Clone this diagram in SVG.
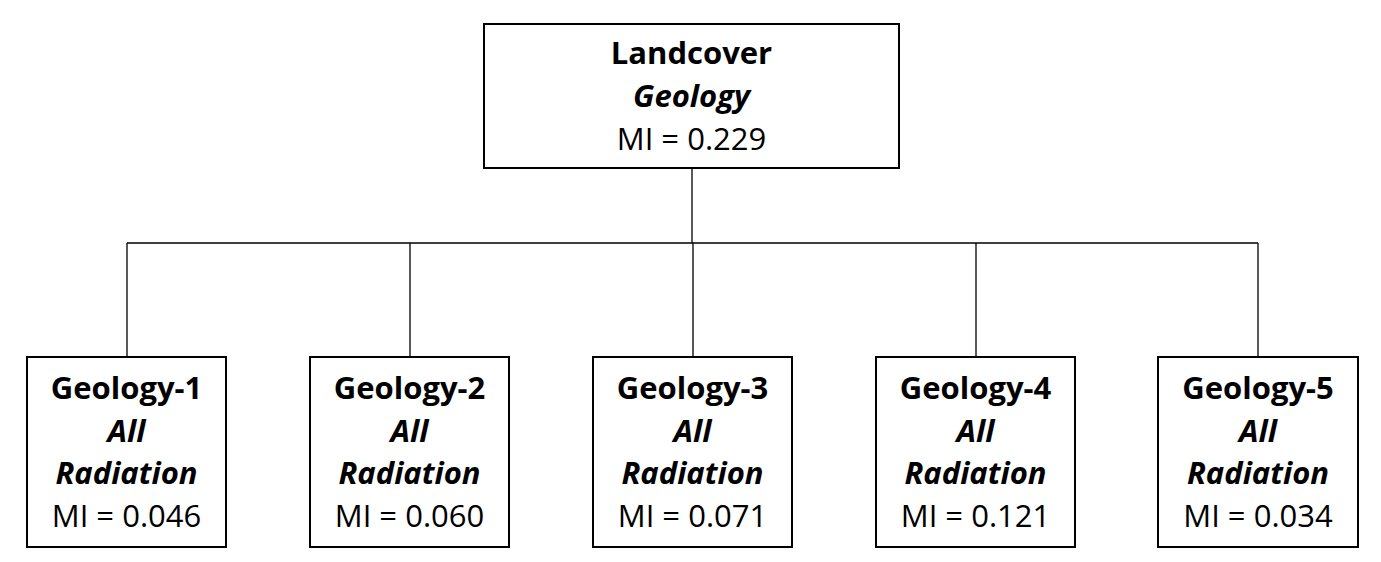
<svg xmlns="http://www.w3.org/2000/svg" width="1381" height="562" viewBox="0 0 1381 562">
<style>
.box{fill:#fff;stroke:#000;stroke-width:2}
.t{font-family:"Open Sans","Liberation Sans",sans-serif;font-size:31px;text-anchor:middle;fill:#000}
.b{font-weight:bold}
.bi{font-weight:bold;font-style:italic}
.c{fill:none;stroke:#000;stroke-width:1.3}
</style>
<rect width="1381" height="562" fill="#fff"/>
<g id="connectors">
<path class="c" d="M692 168V243M127 243H1258M127 243V357M410 243V357M693 243V357M976 243V357M1258 243V357"/>
</g>
<g id="root">
<rect class="box" x="484" y="24" width="415" height="144"/>
<text class="t b" x="691.5" y="64">Landcover</text>
<text class="t bi" x="691.5" y="107">Geology</text>
<text class="t" x="691.5" y="150">MI = 0.229</text>
</g>
<g id="g1">
<rect class="box" x="27" y="357" width="199" height="190"/>
<text class="t b" x="126.5" y="399">Geology-1</text>
<text class="t bi" x="126.5" y="442">All</text>
<text class="t bi" x="126.5" y="484">Radiation</text>
<text class="t" x="126.5" y="527">MI = 0.046</text>
</g>
<g id="g2">
<rect class="box" x="310" y="357" width="199" height="190"/>
<text class="t b" x="409.5" y="399">Geology-2</text>
<text class="t bi" x="409.5" y="442">All</text>
<text class="t bi" x="409.5" y="484">Radiation</text>
<text class="t" x="409.5" y="527">MI = 0.060</text>
</g>
<g id="g3">
<rect class="box" x="593" y="357" width="199" height="190"/>
<text class="t b" x="692.5" y="399">Geology-3</text>
<text class="t bi" x="692.5" y="442">All</text>
<text class="t bi" x="692.5" y="484">Radiation</text>
<text class="t" x="692.5" y="527">MI = 0.071</text>
</g>
<g id="g4">
<rect class="box" x="876" y="357" width="199" height="190"/>
<text class="t b" x="975.5" y="399">Geology-4</text>
<text class="t bi" x="975.5" y="442">All</text>
<text class="t bi" x="975.5" y="484">Radiation</text>
<text class="t" x="975.5" y="527">MI = 0.121</text>
</g>
<g id="g5">
<rect class="box" x="1158" y="357" width="200" height="190"/>
<text class="t b" x="1258" y="399">Geology-5</text>
<text class="t bi" x="1258" y="442">All</text>
<text class="t bi" x="1258" y="484">Radiation</text>
<text class="t" x="1258" y="527">MI = 0.034</text>
</g>
</svg>
